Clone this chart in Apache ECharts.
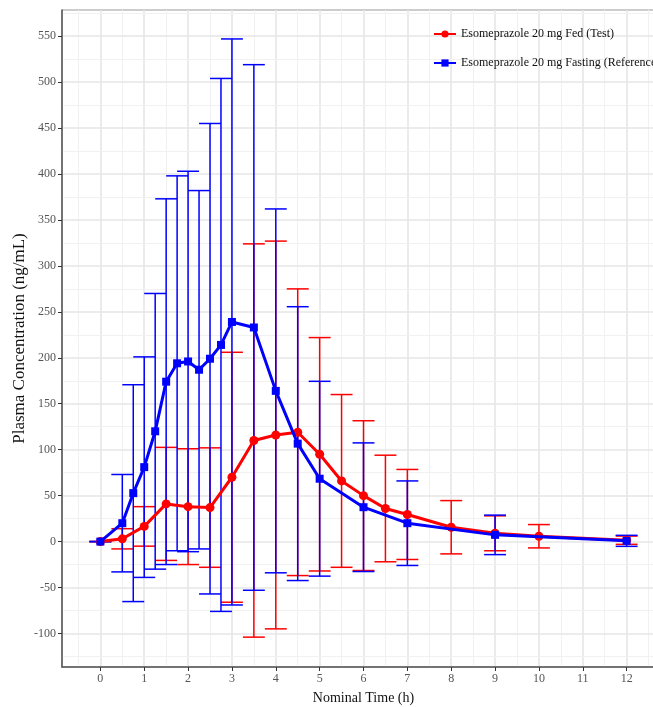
<!DOCTYPE html>
<html lang="en">
<head>
    <meta charset="UTF-8">
    <script src="https://cdn.jsdelivr.net/npm/echarts@6/dist/echarts.min.js"></script>
    <title>Esomeprazole PK</title>
    <style>
        html, body { margin: 0; padding: 0; background: #fff; }
    </style>
</head>
<body>
    <div id="pk-chart" style="width: 653px;height:707px;"></div>
<script type="text/javascript">
    // Fed (Test) - red
    var fedTime = [0, 0.5, 1, 1.5, 2, 2.5, 3, 3.5, 4, 4.5, 5, 5.5, 6, 6.5, 7, 8, 9, 10, 12];
    var fedMean = [0, 3, 16.5, 41, 38, 37, 70, 110, 116, 119, 95, 66, 50, 36, 29.5, 15.6, 9, 5.8, 1.5];
    var fedSD   = [0, 11, 21.5, 61.5, 63, 65, 136, 214, 211, 156, 127, 94, 81.5, 58, 49, 29, 19, 12.7, 4.5];

    // Fasting (Reference) - blue
    var fastTime = [0, 0.5, 0.75, 1, 1.25, 1.5, 1.75, 2, 2.25, 2.5, 2.75, 3, 3.5, 4, 4.5, 5, 6, 7, 9, 12];
    var fastMean = [0, 20, 52.7, 81, 120, 174, 194, 196, 187, 199, 214, 239, 233, 164, 106.6, 68.4, 37.4, 20, 7.3, 0.8];
    var fastSD   = [0, 53, 118, 120, 150, 199, 204, 207, 195, 256, 290, 308, 286, 198, 149, 106, 70, 46, 21.5, 6];

    var xTicks = [0, 1, 2, 3, 4, 5, 6, 7, 8, 9, 10, 11, 12];
    var yTicks = [-100, -50, 0, 50, 100, 150, 200, 250, 300, 350, 400, 450, 500, 550];

    var seriesNames = ['Esomeprazole 20 mg Fed (Test)', 'Esomeprazole 20 mg Fasting (Reference)'];

    var serif = '"Liberation Serif", "DejaVu Serif", serif';
    var capHalf = 0.25; // errorbar half width, in hours

    function pairs(t, v) {
        return t.map(function (x, i) { return [x, v[i]]; });
    }
    function errRows(t, m, s) {
        return t.map(function (x, i) { return [x, m[i] - s[i], m[i] + s[i]]; });
    }
    function errorBar(color) {
        return function (params, api) {
            var x = api.value(0), lo = api.value(1), hi = api.value(2);
            var top = api.coord([x, hi]), bot = api.coord([x, lo]);
            var tl = api.coord([x - capHalf, hi]), tr = api.coord([x + capHalf, hi]);
            var bl = api.coord([x - capHalf, lo]), br = api.coord([x + capHalf, lo]);
            var style = {stroke: color, lineWidth: 1.5};
            return {
                type: 'group',
                children: [
                    {type: 'line', shape: {x1: top[0], y1: top[1], x2: bot[0], y2: bot[1]}, style: style},
                    {type: 'line', shape: {x1: tl[0], y1: tl[1], x2: tr[0], y2: tr[1]}, style: style},
                    {type: 'line', shape: {x1: bl[0], y1: bl[1], x2: br[0], y2: br[1]}, style: style}
                ]
            };
        };
    }

    // grid lines (major on ticks, minor half way between)
    var major = {color: '#e6e6e6', width: 1.6, type: 'solid'};
    var minor = {color: '#f1f1f1', width: 1, type: 'solid'};
    var gridLines = [];
    xTicks.forEach(function (v) {
        gridLines.push({xAxis: v, lineStyle: major});
        gridLines.push({xAxis: v - 0.5, lineStyle: minor});
    });
    gridLines.push({xAxis: 12.5, lineStyle: minor});
    yTicks.forEach(function (v) {
        gridLines.push({yAxis: v, lineStyle: major});
        gridLines.push({yAxis: v - 25, lineStyle: minor});
    });
    gridLines.push({yAxis: 575, lineStyle: minor});

    var chart = echarts.init(document.getElementById('pk-chart'));
    chart.setOption({
        animation: false,
        backgroundColor: '#fff',
        grid: {
            left: 62, right: -12, top: 10, bottom: 40,
            outerBoundsMode: 'none',
            containLabel: false,
            show: true, borderColor: '#999', borderWidth: 1, backgroundColor: 'transparent'
        },
        legend: {
            data: seriesNames,
            orient: 'vertical',
            left: 433,
            top: 28,
            padding: 0,
            itemGap: 17,
            itemWidth: 22,
            itemHeight: 9,
            textStyle: {fontFamily: serif, fontSize: 12, color: '#111'}
        },
        xAxis: {
            type: 'value',
            min: -0.875,
            max: 12.875,
            name: 'Nominal Time (h)',
            nameLocation: 'middle',
            nameGap: 24,
            nameMoveOverlap: false,
            nameTextStyle: {fontFamily: serif, fontSize: 14, color: '#111'},
            axisLine: {show: true, onZero: false, lineStyle: {color: '#555', width: 1.5}},
            axisTick: {show: true, customValues: xTicks, length: 4, lineStyle: {color: '#333'}},
            axisLabel: {customValues: xTicks, fontFamily: serif, fontSize: 12, color: '#555', margin: 6},
            splitLine: {show: false}
        },
        yAxis: {
            type: 'value',
            min: -136.5,
            max: 578.5,
            name: 'Plasma Concentration (ng/mL)',
            nameLocation: 'middle',
            nameGap: 34,
            nameMoveOverlap: false,
            nameTextStyle: {fontFamily: serif, fontSize: 17, color: '#111'},
            axisLine: {show: true, onZero: false, lineStyle: {color: '#555', width: 1.5}},
            axisTick: {show: true, customValues: yTicks, length: 4, lineStyle: {color: '#333'}},
            axisLabel: {customValues: yTicks, fontFamily: serif, fontSize: 12, color: '#555', margin: 6},
            splitLine: {show: false}
        },
        series: [
            {
                name: 'grid',
                type: 'line',
                data: [],
                z: 0,
                silent: true,
                markLine: {silent: true, z: 0, symbol: 'none', label: {show: false}, animation: false, data: gridLines}
            },
            {
                name: 'fedErr',
                type: 'custom',
                z: 2,
                renderItem: errorBar('#ff0000'),
                encode: {x: 0, y: [1, 2]},
                data: errRows(fedTime, fedMean, fedSD)
            },
            {
                name: 'fastErr',
                type: 'custom',
                z: 3,
                renderItem: errorBar('#0000ff'),
                encode: {x: 0, y: [1, 2]},
                data: errRows(fastTime, fastMean, fastSD)
            },
            {
                name: seriesNames[0],
                type: 'line',
                z: 4,
                symbol: 'circle',
                symbolSize: 9,
                showAllSymbol: true,
                color: '#ff0000',
                lineStyle: {width: 3, color: '#ff0000'},
                itemStyle: {color: '#ff0000'},
                data: pairs(fedTime, fedMean)
            },
            {
                name: seriesNames[1],
                type: 'line',
                z: 5,
                symbol: 'rect',
                symbolSize: 8,
                showAllSymbol: true,
                color: '#0000ff',
                lineStyle: {width: 3, color: '#0000ff'},
                itemStyle: {color: '#0000ff'},
                data: pairs(fastTime, fastMean)
            }
        ]
    });
</script>
</body>
</html>
